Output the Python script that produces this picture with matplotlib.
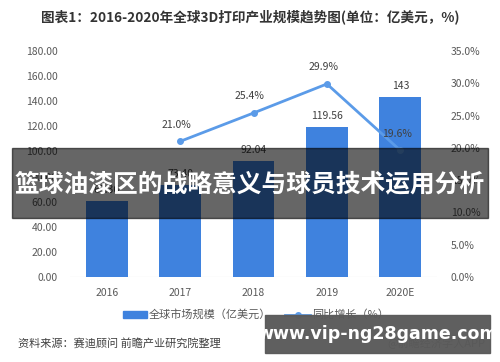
import matplotlib.pyplot as plt
from matplotlib.patches import Rectangle

plt.rcParams['font.family'] = ['Noto Sans CJK SC', 'DejaVu Sans']

# data
years = ['2016', '2017', '2018', '2019', '2020E']
market = [60.36, 73.40, 92.04, 119.56, 143]
market_labels = ['60.36', '73.40', '92.04', '119.56', '143']
growth_years = [1, 2, 3, 4]
growth = [21.0, 25.4, 29.9, 19.6]

bar_color = '#3f82de'
line_color = '#5b9be8'
tick_color = '#595959'

fig = plt.figure(figsize=(5, 3.62), dpi=100)
ax = fig.add_axes([0.14, 0.235, 0.734, 0.624])
ax2 = ax.twinx()

x = range(len(years))
ax.bar(x, market, width=0.57, color=bar_color, zorder=2)
for i, v in enumerate(market):
    ax.text(i, v + 5, market_labels[i], ha='center', va='bottom', fontsize=7.5, color='#404040')

ax.set_xlim(-0.5, 4.5)
ax.set_ylim(0, 180)
ax.set_yticks(range(0, 181, 20))
ax.set_yticklabels(['%.2f' % t for t in range(0, 181, 20)])
ax.set_xticks(list(x))
ax.set_xticklabels(years)

ax2.plot(growth_years, growth, color=line_color, lw=2, marker='o', ms=4, zorder=3)
for xi, g in zip(growth_years, growth):
    ax2.text(xi - 0.05, g + 1.8, '%.1f%%' % g, ha='center', va='bottom', fontsize=7.5, color='#404040')
ax2.set_ylim(0, 35)
ax2.set_yticks([0, 5, 10, 15, 20, 25, 30, 35])
ax2.set_yticklabels(['%.1f%%' % t for t in [0, 5, 10, 15, 20, 25, 30, 35]])

for a in (ax, ax2):
    for s in a.spines.values():
        s.set_visible(False)
    a.tick_params(length=0, labelsize=7.5, colors=tick_color)
ax.tick_params(axis='x', pad=8)
ax.tick_params(axis='y', pad=9)
ax2.tick_params(axis='y', pad=10)
ax.axhline(0, color='#d9d9d9', lw=0.8, zorder=1)

# title
fig.text(0.5, 0.955, '图表1：2016-2020年全球3D打印产业规模趋势图(单位：亿美元，%)',
         ha='center', va='center', fontsize=9.8, fontweight='bold', color='#333333')

# legend
fig.patches.append(Rectangle((0.245, 0.122), 0.048, 0.018, transform=fig.transFigure,
                             color=bar_color))
fig.text(0.298, 0.131, '全球市场规模（亿美元）', ha='left', va='center', fontsize=8, color=tick_color)
fig.lines.append(plt.Line2D([0.57, 0.62], [0.131, 0.131], transform=fig.transFigure,
                            color=line_color, lw=2))
fig.lines.append(plt.Line2D([0.595], [0.131], transform=fig.transFigure,
                            color=line_color, marker='o', ms=4))
fig.text(0.625, 0.131, '同比增长（%）', ha='left', va='center', fontsize=8, color=tick_color)

# source
fig.text(0.035, 0.052, '资料来源：赛迪顾问 前瞻产业研究院整理', ha='left', va='center',
         fontsize=8, color='#404040')
fig.text(0.97, 0.052, '@前瞻经济学人APP', ha='right', va='center', fontsize=8, color='#404040')

# overlay band
fig.patches.append(Rectangle((0.024, 0.398), 0.952, 0.193, transform=fig.transFigure,
                             color='black', alpha=0.6, zorder=10))
fig.text(0.5, 0.49, '篮球油漆区的战略意义与球员技术运用分析', ha='center', va='center',
         fontsize=17.8, fontweight='bold', color='white', zorder=11)

# bottom-right overlay box
fig.patches.append(Rectangle((0.53, 0.025), 0.45, 0.105, transform=fig.transFigure,
                             color='#5a5a5a', alpha=0.97, zorder=10))
fig.text(0.755, 0.078, 'www.vip-ng28game.com', ha='center', va='center',
         fontsize=12.5, fontweight='bold', color='white', zorder=11, family='DejaVu Sans')

fig.savefig('out.png', dpi=100)
